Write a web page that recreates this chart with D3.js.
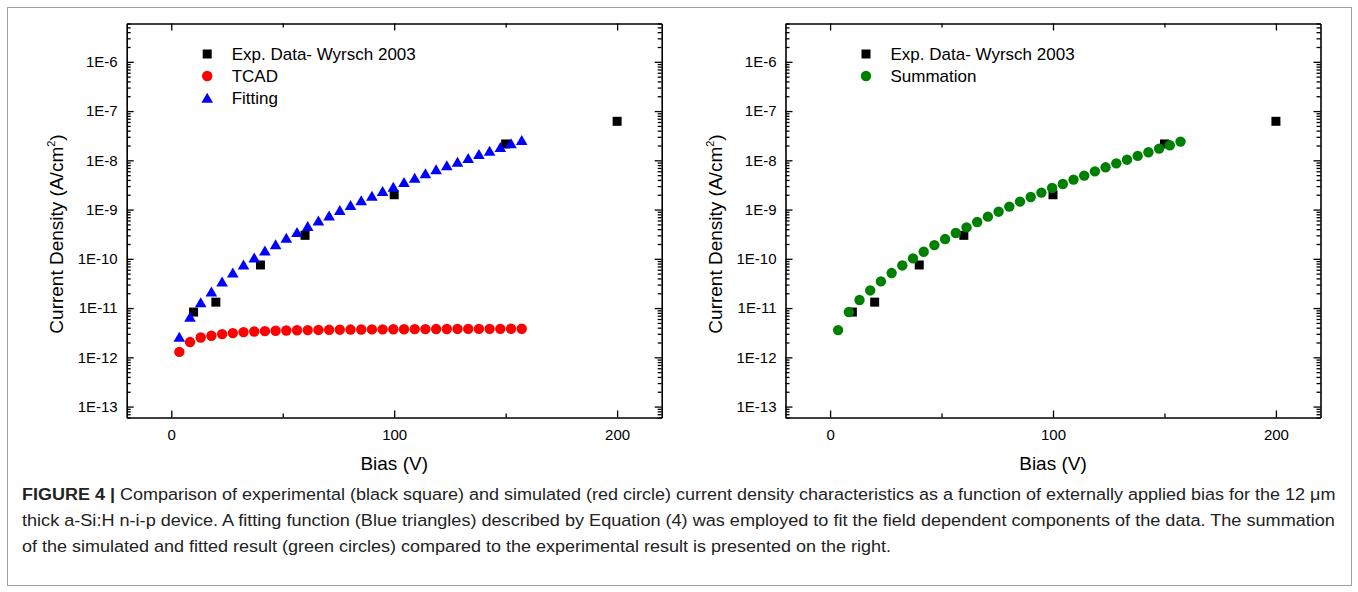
<!DOCTYPE html>
<html><head><meta charset="utf-8">
<script src="https://cdn.jsdelivr.net/npm/d3@7"></script>
<style>body{margin:0;background:#fff}svg{display:block}</style>
</head><body>
<svg id="c" width="1358" height="592"></svg>
<script>
// ---------- data ----------
const expBias = [10, 20, 40, 60, 100, 150, 200];
const expJ = [8.3e-12, 1.32e-11, 7.5e-11, 3.0e-10, 2.0e-9, 2.15e-8, 6.2e-8];
const simBias = [3.6, 8.4, 13.2, 18, 22.8, 27.6, 32.4, 37.2, 42, 46.8, 51.6, 56.4, 61.2, 66, 70.8, 75.6, 80.4,
  85.2, 90, 94.8, 99.6, 104.4, 109.2, 114, 118.8, 123.6, 128.4, 133.2, 138, 142.8, 147.6, 152.4, 157.2];
const tcadJ = [1.29e-12, 2.04e-12, 2.53e-12, 2.74e-12, 2.96e-12, 3.1e-12, 3.25e-12, 3.35e-12, 3.4e-12, 3.46e-12,
  3.51e-12, 3.55e-12, 3.57e-12, 3.6e-12, 3.62e-12, 3.64e-12, 3.66e-12, 3.67e-12, 3.69e-12, 3.7e-12, 3.71e-12,
  3.72e-12, 3.73e-12, 3.74e-12, 3.75e-12, 3.76e-12, 3.77e-12, 3.78e-12, 3.78e-12, 3.79e-12, 3.79e-12, 3.8e-12, 3.8e-12];
const fitJ = [2.57e-12, 6.56e-12, 1.3e-11, 2.14e-11, 3.42e-11, 5.2e-11, 7.6e-11, 1.05e-10, 1.46e-10, 1.96e-10,
  2.65e-10, 3.45e-10, 4.56e-10, 5.95e-10, 7.51e-10, 9.63e-10, 1.22e-9, 1.52e-9, 1.89e-9, 2.34e-9, 2.88e-9,
  3.57e-9, 4.39e-9, 5.37e-9, 6.48e-9, 7.8e-9, 9.27e-9, 1.1e-8, 1.32e-8, 1.55e-8, 1.84e-8, 2.18e-8, 2.55e-8];
const sumJ = [3.57e-12, 8.3e-12, 1.46e-11, 2.28e-11, 3.48e-11, 5.14e-11, 7.34e-11, 1.02e-10, 1.39e-10, 1.9e-10,
  2.52e-10, 3.34e-10, 4.35e-10, 5.6e-10, 7.18e-10, 9.06e-10, 1.15e-9, 1.45e-9, 1.8e-9, 2.21e-9, 2.75e-9,
  3.31e-9, 4.05e-9, 4.89e-9, 5.97e-9, 7.21e-9, 8.69e-9, 1.03e-8, 1.23e-8, 1.46e-8, 1.73e-8, 2.02e-8, 2.4e-8];

const xTickValues = [0, 100, 200];
const xTickLabels = ["0", "100", "200"];
const xMinorValues = [50, 150];
const yTickValues = [1e-13, 1e-12, 1e-11, 1e-10, 1e-9, 1e-8, 1e-7, 1e-6];
const yTickLabels = ["1E-13", "1E-12", "1E-11", "1E-10", "1E-9", "1E-8", "1E-7", "1E-6"];
const xDomain = [-20, 220];
const yDomain = [6e-14, 6e-6];
const xTitle = "Bias (V)";
const yTitle = "Current Density (A/cm";

const leftLegend = ["Exp. Data- Wyrsch 2003", "TCAD", "Fitting"];
const rightLegend = ["Exp. Data- Wyrsch 2003", "Summation"];

const captionBold = "FIGURE 4 |";
const captionLines = [
  " Comparison of experimental (black square) and simulated (red circle) current density characteristics as a function of externally applied bias for the 12 \u03bcm",
  "thick a-Si:H n-i-p device. A fitting function (Blue triangles) described by Equation (4) was employed to fit the field dependent components of the data. The summation",
  "of the simulated and fitted result (green circles) compared to the experimental result is presented on the right."
];

// ---------- drawing ----------
const svg = d3.select("#c");
const FONT = "'Liberation Sans', Arial, Helvetica, sans-serif";
svg.append("rect").attr("x", 7.5).attr("y", 7.5).attr("width", 1344).attr("height", 578)
  .attr("fill", "none").attr("stroke", "#a0a0a0").attr("stroke-width", 1);

const COLORS = {exp: "#000000", tcad: "#ff0000", fit: "#0000ff", sum: "#008000"};

function markerPath(type) {
  if (type === "square") return "M-4.5,-4.5H4.5V4.5H-4.5Z";
  if (type === "triangle") return "M0,-5.3L5.8,4.7L-5.8,4.7Z";
  return d3.symbol(d3.symbolCircle, Math.PI * 5.2 * 5.2)();
}

function minorLogValues(domain) {
  const out = [];
  for (let e = -14; e <= -5; e++) for (let k = 2; k <= 9; k++) {
    const v = k * Math.pow(10, e);
    if (v >= domain[0] && v <= domain[1]) out.push(v);
  }
  return out;
}

function panel(left, series, legendItems) {
  const top = 23.5, bottom = 417.5, right = left + 535;
  const x = d3.scaleLinear().domain(xDomain).range([left, right]);
  const y = d3.scaleLog().domain(yDomain).range([bottom, top]);
  const g = svg.append("g");
  const minors = minorLogValues(yDomain);

  const styleAxis = sel => {
    sel.selectAll("path.domain").attr("stroke", "#000").attr("stroke-width", 1.6);
    sel.selectAll(".tick line").attr("stroke", "#000").attr("stroke-width", 1.3);
    sel.selectAll("text").attr("font-family", FONT).attr("font-size", 15).attr("fill", "#000");
  };
  // bottom
  g.append("g").attr("transform", `translate(0,${bottom})`)
    .call(d3.axisBottom(x).tickValues(xTickValues).tickFormat((d, i) => xTickLabels[i]).tickSizeInner(-7).tickSizeOuter(0).tickPadding(12))
    .call(styleAxis);
  g.append("g").attr("transform", `translate(0,${bottom})`)
    .call(d3.axisBottom(x).tickValues(xMinorValues).tickFormat("").tickSizeInner(-4).tickSizeOuter(0))
    .call(styleAxis).select("path.domain").remove();
  // top
  g.append("g").attr("transform", `translate(0,${top})`)
    .call(d3.axisTop(x).tickValues(xTickValues).tickFormat("").tickSizeInner(-7).tickSizeOuter(0))
    .call(styleAxis);
  g.append("g").attr("transform", `translate(0,${top})`)
    .call(d3.axisTop(x).tickValues(xMinorValues).tickFormat("").tickSizeInner(-4).tickSizeOuter(0))
    .call(styleAxis).select("path.domain").remove();
  // left
  g.append("g").attr("transform", `translate(${left},0)`)
    .call(d3.axisLeft(y).tickValues(yTickValues).tickFormat((d, i) => yTickLabels[i]).tickSizeInner(-7).tickSizeOuter(0).tickPadding(9))
    .call(styleAxis);
  g.append("g").attr("transform", `translate(${left},0)`)
    .call(d3.axisLeft(y).tickValues(minors).tickFormat("").tickSizeInner(-4).tickSizeOuter(0))
    .call(styleAxis).select("path.domain").remove();
  // right
  g.append("g").attr("transform", `translate(${right},0)`)
    .call(d3.axisRight(y).tickValues(yTickValues).tickFormat("").tickSizeInner(-7).tickSizeOuter(0))
    .call(styleAxis);
  g.append("g").attr("transform", `translate(${right},0)`)
    .call(d3.axisRight(y).tickValues(minors).tickFormat("").tickSizeInner(-4).tickSizeOuter(0))
    .call(styleAxis).select("path.domain").remove();

  // titles
  g.append("text").attr("x", (left + right) / 2).attr("y", 470).attr("text-anchor", "middle")
    .attr("font-family", FONT).attr("font-size", 19).text(xTitle);
  const yt = g.append("text").attr("transform", `translate(${left - 64},234) rotate(-90)`)
    .attr("text-anchor", "middle").attr("font-family", FONT).attr("font-size", 19);
  yt.append("tspan").text(yTitle);
  yt.append("tspan").attr("font-size", 11).attr("dy", -8).text("2");
  yt.append("tspan").attr("dy", 8).text(")");

  // series
  series.forEach(s => {
    g.append("g").selectAll("path").data(s.xs.map((v, i) => [v, s.ys[i]])).join("path")
      .attr("d", markerPath(s.shape))
      .attr("transform", d => `translate(${x(d[0])},${y(d[1])})`)
      .attr("fill", s.color);
  });

  // legend
  const lg = g.append("g");
  legendItems.forEach((it, i) => {
    const cy = 54 + i * 22;
    lg.append("path").attr("d", markerPath(it.shape)).attr("transform", `translate(${left + 80.5},${cy})`).attr("fill", it.color);
    lg.append("text").attr("x", left + 105).attr("y", cy + 6).attr("font-family", FONT).attr("font-size", 17).text(it.label);
  });
}

panel(126.7, [
  {xs: expBias, ys: expJ, shape: "square", color: COLORS.exp},
  {xs: simBias, ys: tcadJ, shape: "circle", color: COLORS.tcad},
  {xs: simBias, ys: fitJ, shape: "triangle", color: COLORS.fit}
], [
  {label: leftLegend[0], shape: "square", color: COLORS.exp},
  {label: leftLegend[1], shape: "circle", color: COLORS.tcad},
  {label: leftLegend[2], shape: "triangle", color: COLORS.fit}
]);

panel(785.5, [
  {xs: expBias, ys: expJ, shape: "square", color: COLORS.exp},
  {xs: simBias, ys: sumJ, shape: "circle", color: COLORS.sum}
], [
  {label: rightLegend[0], shape: "square", color: COLORS.exp},
  {label: rightLegend[1], shape: "circle", color: COLORS.sum}
]);

// caption
const CAPFONT = "'Liberation Sans Narrow', 'Arial Narrow', 'Liberation Sans', Arial, sans-serif";
const capX = 22, capRight = 1336, capY = [500, 526, 552];
const capGroups = captionLines.map((line, i) => {
  const cg = svg.append("g");
  const t = cg.append("text").attr("x", 0).attr("y", 0).attr("font-family", CAPFONT).attr("font-size", 17).attr("fill", "#222");
  if (i === 0) t.append("tspan").attr("font-weight", "bold").text(captionBold);
  t.append("tspan").text(line);
  return {cg, t};
});
const w0 = capGroups[0].t.node().getComputedTextLength();
const s0 = (capRight - capX) / w0;
capGroups.forEach((c, i) => {
  const w = c.t.node().getComputedTextLength();
  const s = i < 2 ? (capRight - capX) / w : s0;
  c.cg.attr("transform", `translate(${capX},${capY[i]}) scale(${s},1)`);
});
</script>
</body></html>
